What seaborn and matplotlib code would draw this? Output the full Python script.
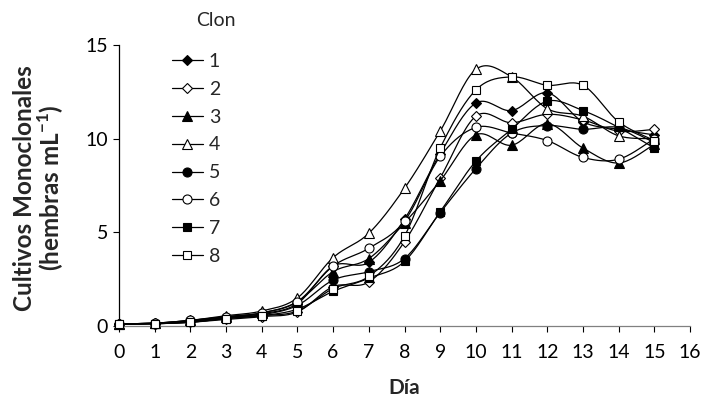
import numpy as np
import pandas as pd
import seaborn as sns
import matplotlib.pyplot as plt
from matplotlib.lines import Line2D

# days of culture
dias = list(range(16))

# females per mL for each clone
clon1 = [0.10, 0.15, 0.25, 0.45, 0.65, 1.20, 3.20, 3.40, 5.70, 9.20, 11.90, 11.50, 12.45, 10.90, 10.50, 10.20]
clon2 = [0.10, 0.12, 0.20, 0.35, 0.50, 0.75, 2.10, 2.35, 4.50, 7.90, 11.20, 10.85, 11.30, 11.00, 10.40, 10.50]
clon3 = [0.10, 0.15, 0.30, 0.50, 0.70, 1.30, 2.90, 3.60, 5.50, 7.75, 10.20, 9.65, 10.80, 9.50, 8.70, 9.70]
clon4 = [0.10, 0.15, 0.30, 0.55, 0.80, 1.50, 3.65, 4.95, 7.35, 10.40, 13.70, 13.30, 11.60, 11.20, 10.15, 10.00]
clon5 = [0.10, 0.12, 0.25, 0.45, 0.60, 1.10, 2.45, 2.90, 3.60, 6.05, 8.40, 10.30, 10.70, 10.50, 10.60, 9.80]
clon6 = [0.10, 0.15, 0.30, 0.50, 0.70, 1.30, 3.20, 4.15, 5.60, 9.05, 10.60, 10.30, 9.90, 9.00, 8.90, 10.00]
clon7 = [0.10, 0.12, 0.20, 0.40, 0.55, 0.90, 1.85, 2.55, 3.45, 6.10, 8.80, 10.50, 12.00, 11.50, 10.60, 9.50]
clon8 = [0.10, 0.12, 0.20, 0.40, 0.55, 0.80, 2.00, 2.65, 4.80, 9.50, 12.60, 13.30, 12.85, 12.85, 10.90, 9.90]

series = [clon1, clon2, clon3, clon4, clon5, clon6, clon7, clon8]
labels = ['1', '2', '3', '4', '5', '6', '7', '8']
markers = ['D', 'D', '^', '^', 'o', 'o', 's', 's']
fills = ['k', 'w', 'k', 'w', 'k', 'w', 'k', 'w']
msizes = [5, 5, 6.5, 6.5, 6.5, 6.5, 6, 6]


def smooth(x, y, n=20):
    # excel style smoothed line (catmull-rom through the points)
    p = np.column_stack([x, y]).astype(float)
    p = np.vstack([p[0], p, p[-1]])
    out = []
    t = np.linspace(0, 1, n)[:, None]
    for i in range(1, len(p) - 2):
        p0, p1, p2, p3 = p[i - 1], p[i], p[i + 1], p[i + 2]
        c1 = p1 + (p2 - p0) / 6
        c2 = p2 - (p3 - p1) / 6
        seg = ((1 - t) ** 3) * p1 + 3 * ((1 - t) ** 2) * t * c1 + 3 * (1 - t) * t ** 2 * c2 + t ** 3 * p2
        out.append(seg)
    out = np.vstack(out)
    return out[:, 0], out[:, 1]


sns.set_style('white')
plt.rcParams['font.family'] = ['Lato', 'DejaVu Sans']
plt.rcParams['mathtext.fontset'] = 'custom'
plt.rcParams['mathtext.bf'] = 'Lato:bold'
plt.rcParams['mathtext.rm'] = 'Lato'

fig = plt.figure(figsize=(7.05, 4.08), dpi=100)
ax = fig.add_axes([119 / 705, 1 - 326 / 408, 571 / 705, 281 / 408])

for i, vals in enumerate(series):
    sx, sy = smooth(dias, vals)
    df = pd.DataFrame({'x': sx, 'y': sy})
    sns.lineplot(data=df, x='x', y='y', ax=ax, color='k', lw=0.9, sort=False,
                 estimator=None, zorder=2 + 2 * i)
    ax.plot(dias, vals, linestyle='none', marker=markers[i], ms=msizes[i],
            mfc=fills[i], mec='k', mew=0.8, zorder=3 + 2 * i, clip_on=False)

ax.set_xlim(0, 16)
ax.set_ylim(0, 15)
ax.set_xticks(range(0, 17))
ax.set_yticks([0, 5, 10, 15])
ax.tick_params(axis='both', direction='out', length=4, width=0.8, labelsize=14,
               colors='k', bottom=True, left=True)
ax.tick_params(axis='x', pad=9)
ax.tick_params(axis='y', pad=4)
for s in ['top', 'right']:
    ax.spines[s].set_visible(False)
ax.spines['left'].set_color('k')
ax.spines['bottom'].set_color('#808080')
ax.spines['left'].set_linewidth(0.9)
ax.spines['bottom'].set_linewidth(0.9)

ax.set_xlabel('Día', fontsize=15, fontweight='bold', labelpad=12)
ax.set_ylabel('')
fig.text(25 / 705, 1 - 188 / 408, 'Cultivos Monoclonales', rotation=90, ha='center',
         va='center', fontsize=17.5, fontweight='bold')
fig.text(51 / 705, 1 - 188 / 408, r'(hembras mL$^{\mathbf{-1}}$)', rotation=90, ha='center',
         va='center', fontsize=17.5, fontweight='bold')

handles = [Line2D([], [], color='k', lw=0.9, marker=markers[i], ms=msizes[i],
                  mfc=fills[i], mec='k', mew=0.8) for i in range(8)]
leg = fig.legend(handles, labels, loc='upper left', bbox_to_anchor=(164 / 705, 1 - 45 / 408),
                 frameon=False, fontsize=14, handlelength=1.6, handletextpad=0.3,
                 labelspacing=0.56, borderaxespad=0)
fig.text(196 / 705, 1 - 20 / 408, 'Clon', ha='left', va='center', fontsize=14)

fig.savefig('out.png', dpi=100)
